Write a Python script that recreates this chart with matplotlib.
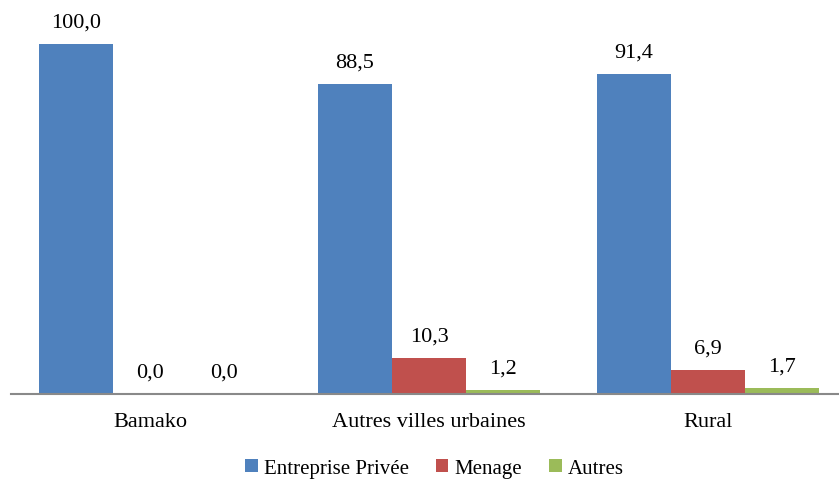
import numpy as np
import matplotlib.pyplot as plt

plt.rcParams['font.family'] = ['Liberation Serif', 'DejaVu Serif']

# Data
categories = ['Bamako', 'Autres villes urbaines', 'Rural']
entreprise = [100.0, 88.5, 91.4]
menage = [0.0, 10.3, 6.9]
autres = [0.0, 1.2, 1.7]

series = [('Entreprise Privée', entreprise, '#4F81BD'),
          ('Menage', menage, '#C0504D'),
          ('Autres', autres, '#9BBB59')]

fig = plt.figure(figsize=(8.39, 4.85), dpi=100)
ax = fig.add_axes([0.0131, 0.1856, 0.99, 0.794])

x = np.arange(len(categories))
width = 0.266

for i, (name, vals, color) in enumerate(series):
    pos = x + (i - 1) * width
    bars = ax.bar(pos, vals, width, color=color, label=name)
    for b, v in zip(bars, vals):
        ax.annotate(f'{v:.1f}'.replace('.', ','),
                    (b.get_x() + b.get_width() / 2, v),
                    xytext=(0, 9), textcoords='offset points',
                    ha='center', va='bottom', fontsize=16)

ax.set_xlim(-0.5, 2.48)
ax.set_ylim(0, 110)
ax.set_xticks(x)
ax.set_xticklabels(categories, fontsize=16)
ax.tick_params(axis='x', length=0, pad=13)
ax.set_yticks([])
for s in ['top', 'right', 'left']:
    ax.spines[s].set_visible(False)
ax.spines['bottom'].set_color('#898989')
ax.spines['bottom'].set_linewidth(1.5)

ax.legend(loc='upper center', bbox_to_anchor=(0.51, -0.12), ncol=3,
          frameon=False, fontsize=15, handlelength=0.6, handleheight=0.6,
          handletextpad=0.3, columnspacing=1.3)

fig.savefig('out.png', dpi=100)
